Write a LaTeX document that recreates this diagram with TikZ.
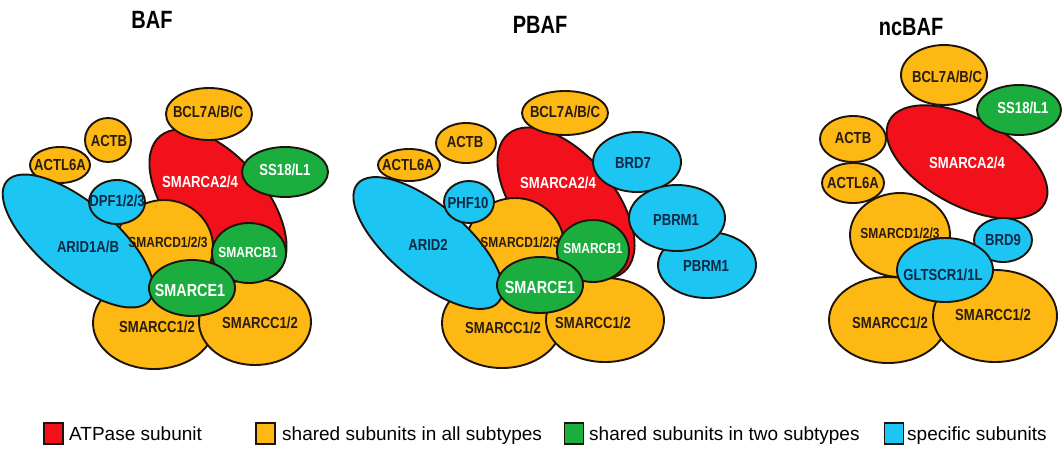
\documentclass[tikz,border=0pt]{standalone}
\usepackage{fontspec}
\setmainfont{Liberation Sans}
\newfontfamily\labfont{Liberation Sans}[FakeStretch=0.82]
\newfontfamily\ttlfont{Liberation Sans}[FakeStretch=0.8]
\definecolor{cRed}{HTML}{F2101A}
\definecolor{cOra}{HTML}{FDB813}
\definecolor{cGre}{HTML}{1BAE3E}
\definecolor{cBlu}{HTML}{1DC6F2}
\definecolor{cEdge}{HTML}{1E140C}
\definecolor{cDark}{HTML}{2A1C0E}
\definecolor{cNavy}{HTML}{0C2A48}
\newcommand\ovl[5]{\filldraw[sub,fill=#1] (#2,#3) ellipse [x radius=#4pt, y radius=#5pt];}
\newcommand\rovl[6]{\filldraw[sub,fill=#1,rotate around={#6:(#2,#3)}] (#2,#3) ellipse [x radius=#4pt, y radius=#5pt];}
\tikzset{
  sub/.style={draw=cEdge, line width=1.9pt},
  lab/.style={font={\labfont\bfseries\fontsize{16}{16}\selectfont}, inner sep=0pt},
  labs/.style={font={\labfont\bfseries\fontsize{14.6}{15}\selectfont}, inner sep=0pt},
  labb/.style={font={\labfont\bfseries\fontsize{17.5}{18}\selectfont}, inner sep=0pt},
  tdk/.style={text=cDark},
  twh/.style={text=white},
  tbl/.style={text=cNavy},
  ttl/.style={font={\ttlfont\bfseries\fontsize{25}{25}\selectfont}, anchor=base, inner sep=0pt},
  lgbox/.style={draw=cEdge, line width=1.8pt, minimum width=19pt, minimum height=21pt, inner sep=0pt},
  lgtxt/.style={font={\fontsize{19}{19}\selectfont}, anchor=base west, inner sep=0pt, text=black}
}
\begin{document}
\begin{tikzpicture}[x=1pt,y=-1pt]
\useasboundingbox (0,0) rectangle (1064,448);
\fill[white] (0,0) rectangle (1064,448);

% ---------------- BAF ----------------
\node[ttl] (t-baf) at (152,28) {BAF};
\rovl{cRed}{218}{205}{90}{48}{-50}
\ovl{cOra}{209}{114}{43}{26}
\ovl{cGre}{285}{172}{43}{25}
\ovl{cOra}{108}{140}{23}{22}
\ovl{cOra}{60}{165}{30}{18}
\ovl{cOra}{154}{323}{61}{46}
\ovl{cOra}{255}{322}{56}{43}
\ovl{cOra}{164}{247}{49}{47}
\rovl{cBlu}{78}{241}{93}{38}{-40}
\ovl{cBlu}{117}{202}{28}{22}
\ovl{cGre}{249}{253}{37}{30}
\ovl{cGre}{192}{288}{43}{28}
\node[lab,tdk] (baf-bcl) at (208,112) {BCL7A/B/C};
\node[lab,tdk] (baf-actb) at (109,141) {ACTB};
\node[lab,tdk] (baf-actl) at (60,165) {ACTL6A};
\node[lab,twh] (baf-ss18) at (285,170) {SS18/L1};
\node[lab,twh] (baf-sma) at (200,182) {SMARCA2/4};
\node[lab,tbl] (baf-dpf) at (117,201) {DPF1/2/3};
\node[lab,tbl] (baf-arid) at (88,247) {ARID1A/B};
\node[labs,tdk] (baf-smd) at (168,242) {SMARCD1/2/3};
\node[labs,twh] (baf-smb) at (248,252) {SMARCB1};
\node[labb,twh] (baf-sme) at (190,290) {SMARCE1};
\node[lab,tdk] (baf-smc1) at (157,327) {SMARCC1/2};
\node[lab,tdk] (baf-smc2) at (260,323) {SMARCC1/2};

% ---------------- PBAF ----------------
\node[ttl] (t-pbaf) at (540,33) {PBAF};
\rovl{cRed}{566}{203}{90}{48}{-50}
\ovl{cOra}{565}{113}{43}{22}
\ovl{cBlu}{637}{162}{44}{30}
\ovl{cBlu}{707}{265}{49}{33}
\ovl{cBlu}{677}{218}{48}{33}
\ovl{cOra}{466}{143}{30}{20}
\ovl{cOra}{409}{165}{31}{16}
\ovl{cOra}{502}{323}{60}{45}
\ovl{cOra}{605}{320}{59}{42}
\ovl{cOra}{515}{245}{49}{47}
\rovl{cBlu}{428}{243}{92}{38}{-40}
\ovl{cBlu}{469}{202}{25}{21}
\ovl{cGre}{593}{251}{36}{31}
\ovl{cGre}{540}{285}{43}{28}
\node[lab,tdk] (pb-bcl) at (565,112) {BCL7A/B/C};
\node[lab,tdk] (pb-actb) at (465,142) {ACTB};
\node[lab,tdk] (pb-actl) at (408,165) {ACTL6A};
\node[lab,twh] (pb-sma) at (558,183) {SMARCA2/4};
\node[lab,tbl] (pb-brd7) at (633,163) {BRD7};
\node[lab,tbl] (pb-pb1) at (676,220) {PBRM1};
\node[lab,tbl] (pb-pb2) at (706,266) {PBRM1};
\node[lab,tbl] (pb-phf) at (468,203) {PHF10};
\node[lab,tbl] (pb-arid) at (428,245) {ARID2};
\node[labs,tdk] (pb-smd) at (520,242) {SMARCD1/2/3};
\node[labs,twh] (pb-smb) at (593,248) {SMARCB1};
\node[labb,twh] (pb-sme) at (540,287) {SMARCE1};
\node[lab,tdk] (pb-smc1) at (503,328) {SMARCC1/2};
\node[lab,tdk] (pb-smc2) at (593,323) {SMARCC1/2};

% ---------------- ncBAF ----------------
\node[ttl] (t-nc) at (911,35) {ncBAF};
\ovl{cOra}{944}{75}{43}{30}
\rovl{cRed}{967}{162}{88}{44}{-28}
\ovl{cGre}{1019}{110}{42}{25}
\ovl{cOra}{853}{139}{33}{23}
\ovl{cOra}{853}{183}{31}{20}
\ovl{cOra}{888}{320}{59}{43}
\ovl{cOra}{995}{316}{62}{46}
\ovl{cOra}{900}{235}{50}{42}
\ovl{cBlu}{1003}{240}{29}{22}
\ovl{cBlu}{945}{270}{48}{32}
\node[lab,tdk] (nc-bcl) at (947,77) {BCL7A/B/C};
\node[lab,twh] (nc-ss18) at (1023,108) {SS18/L1};
\node[lab,tdk] (nc-actb) at (853,138) {ACTB};
\node[lab,tdk] (nc-actl) at (853,183) {ACTL6A};
\node[lab,twh] (nc-sma) at (967,163) {SMARCA2/4};
\node[labs,tdk] (nc-smd) at (900,233) {SMARCD1/2/3};
\node[lab,tbl] (nc-brd9) at (1003,240) {BRD9};
\node[lab,tbl] (nc-glt) at (943,275) {GLTSCR1/1L};
\node[lab,tdk] (nc-smc1) at (890,323) {SMARCC1/2};
\node[lab,tdk] (nc-smc2) at (993,315) {SMARCC1/2};

% ---------------- legend ----------------
\node[lgbox,fill=cRed] (lg-r) at (53.5,433.5) {};
\node[lgtxt] (lg-rt) at (69,440) {ATPase subunit};
\node[lgbox,fill=cOra] (lg-o) at (265.5,433.5) {};
\node[lgtxt] (lg-ot) at (282,440) {shared subunits in all subtypes};
\node[lgbox,fill=cGre] (lg-g) at (574,433.5) {};
\node[lgtxt] (lg-gt) at (589,440) {shared subunits in two subtypes};
\node[lgbox,fill=cBlu] (lg-b) at (894,433.5) {};
\node[lgtxt] (lg-bt) at (907,440) {specific subunits};
\end{tikzpicture}
\end{document}
